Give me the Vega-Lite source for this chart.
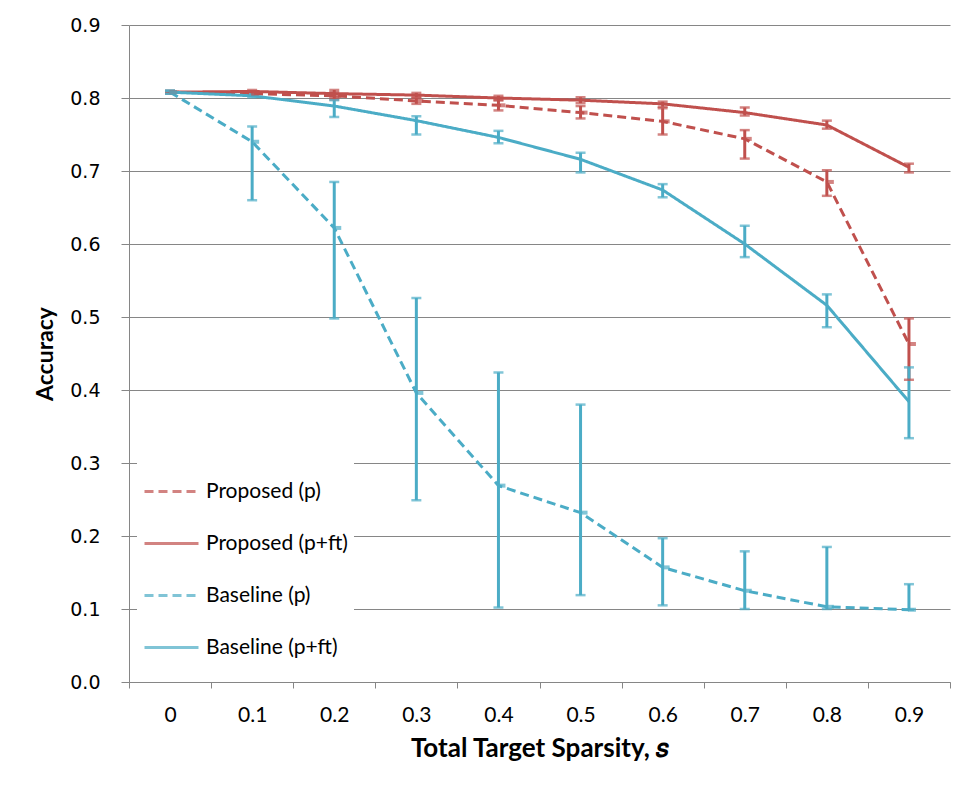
{
  "$schema": "https://vega.github.io/schema/vega-lite/v6.json",
  "autosize": "none",
  "width": 821,
  "height": 657,
  "padding": {"left": 129, "top": 25, "right": 25, "bottom": 115},
  "background": "white",
  "config": {
    "view": {"stroke": null},
    "axis": {"domainColor": "#868686", "tickColor": "#868686", "gridColor": "#868686", "domainWidth": 1, "tickWidth": 1, "gridWidth": 1}
  },
  "data": {
    "values": [
      {"series": "Proposed (p)", "s": "0", "acc": 0.808, "lo": 0.806, "hi": 0.810},
      {"series": "Proposed (p)", "s": "0.1", "acc": 0.806, "lo": 0.803, "hi": 0.809},
      {"series": "Proposed (p)", "s": "0.2", "acc": 0.803, "lo": 0.798, "hi": 0.808},
      {"series": "Proposed (p)", "s": "0.3", "acc": 0.796, "lo": 0.792, "hi": 0.800},
      {"series": "Proposed (p)", "s": "0.4", "acc": 0.790, "lo": 0.783, "hi": 0.797},
      {"series": "Proposed (p)", "s": "0.5", "acc": 0.780, "lo": 0.772, "hi": 0.789},
      {"series": "Proposed (p)", "s": "0.6", "acc": 0.768, "lo": 0.750, "hi": 0.786},
      {"series": "Proposed (p)", "s": "0.7", "acc": 0.744, "lo": 0.717, "hi": 0.756},
      {"series": "Proposed (p)", "s": "0.8", "acc": 0.685, "lo": 0.666, "hi": 0.701},
      {"series": "Proposed (p)", "s": "0.9", "acc": 0.463, "lo": 0.414, "hi": 0.498},
      {"series": "Proposed (p+ft)", "s": "0", "acc": 0.808, "lo": 0.807, "hi": 0.809},
      {"series": "Proposed (p+ft)", "s": "0.1", "acc": 0.809, "lo": 0.806, "hi": 0.811},
      {"series": "Proposed (p+ft)", "s": "0.2", "acc": 0.806, "lo": 0.801, "hi": 0.811},
      {"series": "Proposed (p+ft)", "s": "0.3", "acc": 0.804, "lo": 0.801, "hi": 0.807},
      {"series": "Proposed (p+ft)", "s": "0.4", "acc": 0.800, "lo": 0.797, "hi": 0.803},
      {"series": "Proposed (p+ft)", "s": "0.5", "acc": 0.797, "lo": 0.793, "hi": 0.801},
      {"series": "Proposed (p+ft)", "s": "0.6", "acc": 0.792, "lo": 0.788, "hi": 0.795},
      {"series": "Proposed (p+ft)", "s": "0.7", "acc": 0.780, "lo": 0.776, "hi": 0.787},
      {"series": "Proposed (p+ft)", "s": "0.8", "acc": 0.763, "lo": 0.758, "hi": 0.769},
      {"series": "Proposed (p+ft)", "s": "0.9", "acc": 0.705, "lo": 0.698, "hi": 0.710},
      {"series": "Baseline (p)", "s": "0", "acc": 0.808, "lo": 0.806, "hi": 0.810},
      {"series": "Baseline (p)", "s": "0.1", "acc": 0.740, "lo": 0.660, "hi": 0.761},
      {"series": "Baseline (p)", "s": "0.2", "acc": 0.622, "lo": 0.498, "hi": 0.685},
      {"series": "Baseline (p)", "s": "0.3", "acc": 0.396, "lo": 0.249, "hi": 0.526},
      {"series": "Baseline (p)", "s": "0.4", "acc": 0.269, "lo": 0.102, "hi": 0.424},
      {"series": "Baseline (p)", "s": "0.5", "acc": 0.232, "lo": 0.119, "hi": 0.380},
      {"series": "Baseline (p)", "s": "0.6", "acc": 0.157, "lo": 0.105, "hi": 0.197},
      {"series": "Baseline (p)", "s": "0.7", "acc": 0.125, "lo": 0.100, "hi": 0.179},
      {"series": "Baseline (p)", "s": "0.8", "acc": 0.103, "lo": 0.100, "hi": 0.185},
      {"series": "Baseline (p)", "s": "0.9", "acc": 0.099, "lo": 0.099, "hi": 0.134},
      {"series": "Baseline (p+ft)", "s": "0", "acc": 0.808, "lo": 0.806, "hi": 0.810},
      {"series": "Baseline (p+ft)", "s": "0.1", "acc": 0.803, "lo": 0.801, "hi": 0.805},
      {"series": "Baseline (p+ft)", "s": "0.2", "acc": 0.789, "lo": 0.774, "hi": 0.797},
      {"series": "Baseline (p+ft)", "s": "0.3", "acc": 0.769, "lo": 0.750, "hi": 0.775},
      {"series": "Baseline (p+ft)", "s": "0.4", "acc": 0.746, "lo": 0.738, "hi": 0.755},
      {"series": "Baseline (p+ft)", "s": "0.5", "acc": 0.716, "lo": 0.698, "hi": 0.725},
      {"series": "Baseline (p+ft)", "s": "0.6", "acc": 0.674, "lo": 0.664, "hi": 0.682},
      {"series": "Baseline (p+ft)", "s": "0.7", "acc": 0.600, "lo": 0.582, "hi": 0.625},
      {"series": "Baseline (p+ft)", "s": "0.8", "acc": 0.516, "lo": 0.486, "hi": 0.531},
      {"series": "Baseline (p+ft)", "s": "0.9", "acc": 0.384, "lo": 0.334, "hi": 0.431}
    ]
  },
  "encoding": {
    "x": {
      "field": "s", "type": "ordinal",
      "scale": {"type": "band", "domain": ["0","0.1","0.2","0.3","0.4","0.5","0.6","0.7","0.8","0.9"], "paddingInner": 0, "paddingOuter": 0},
      "axis": {
        "title": "Total Target Sparsity, 𝑠",
        "titleFont": "Lato", "titleFontSize": 26, "titleFontWeight": "bold", "titleColor": "black", "titlePadding": 10,
        "labelAngle": 0, "labelFont": "Lato", "labelFontSize": 21, "labelColor": "black", "labelPadding": 16,
        "tickBand": "extent", "tickSize": 6, "grid": false
      }
    },
    "y": {
      "field": "acc", "type": "quantitative",
      "scale": {"domain": [0, 0.9], "nice": false, "zero": false},
      "axis": {
        "title": "Accuracy", "titleFont": "Lato", "titleFontSize": 23, "titleFontWeight": "bold", "titleColor": "black", "titlePadding": 12,
        "values": [0, 0.1, 0.2, 0.3, 0.4, 0.5, 0.6, 0.7, 0.8, 0.9], "format": ".1f",
        "labelFont": "DejaVu Sans", "labelFontSize": 19, "labelColor": "black", "labelPadding": 21,
        "tickSize": 8, "grid": true
      }
    }
  },
  "layer": [
    {
      "mark": {"type": "rule", "strokeWidth": 3},
      "encoding": {
        "y": {"field": "lo", "type": "quantitative"},
        "y2": {"field": "hi"},
        "color": {"field": "series", "type": "nominal"}
      }
    },
    {
      "mark": {"type": "tick", "size": 10, "thickness": 2.5, "orient": "horizontal"},
      "encoding": {
        "y": {"field": "lo", "type": "quantitative"},
        "color": {"field": "series", "type": "nominal"}
      }
    },
    {
      "mark": {"type": "tick", "size": 10, "thickness": 2.5, "orient": "horizontal"},
      "encoding": {
        "y": {"field": "hi", "type": "quantitative"},
        "color": {"field": "series", "type": "nominal"}
      }
    },
    {
      "mark": {"type": "line", "strokeWidth": 3},
      "encoding": {
        "color": {
          "field": "series", "type": "nominal",
          "scale": {"domain": ["Proposed (p)", "Proposed (p+ft)", "Baseline (p)", "Baseline (p+ft)"], "range": ["#C0504D", "#C0504D", "#4BACC6", "#4BACC6"]},
          "legend": {
            "title": null, "orient": "none", "legendX": 8, "legendY": 432,
            "symbolType": "stroke", "symbolSize": 2916, "symbolStrokeWidth": 3,
            "labelFont": "Lato", "labelFontSize": 21, "labelColor": "black", "labelOffset": 6,
            "rowPadding": 13, "padding": 6, "fillColor": "white", "strokeColor": null
          }
        },
        "strokeDash": {
          "field": "series", "type": "nominal",
          "scale": {"domain": ["Proposed (p)", "Proposed (p+ft)", "Baseline (p)", "Baseline (p+ft)"], "range": [[9, 5], [1, 0], [9, 5], [1, 0]]},
          "legend": {
            "title": null, "orient": "none", "legendX": 8, "legendY": 432,
            "symbolType": "stroke", "symbolSize": 2916, "symbolStrokeWidth": 3,
            "labelFont": "Lato", "labelFontSize": 21, "labelColor": "black", "labelOffset": 6,
            "rowPadding": 13, "padding": 6, "fillColor": "white", "strokeColor": null
          }
        }
      }
    },
    {
      "transform": [{"filter": "datum.series == 'Proposed (p)' || datum.series == 'Baseline (p)'"}],
      "mark": {"type": "tick", "size": 8, "thickness": 4, "orient": "horizontal", "xOffset": 3},
      "encoding": {
        "color": {"field": "series", "type": "nominal"}
      }
    }
  ]
}
